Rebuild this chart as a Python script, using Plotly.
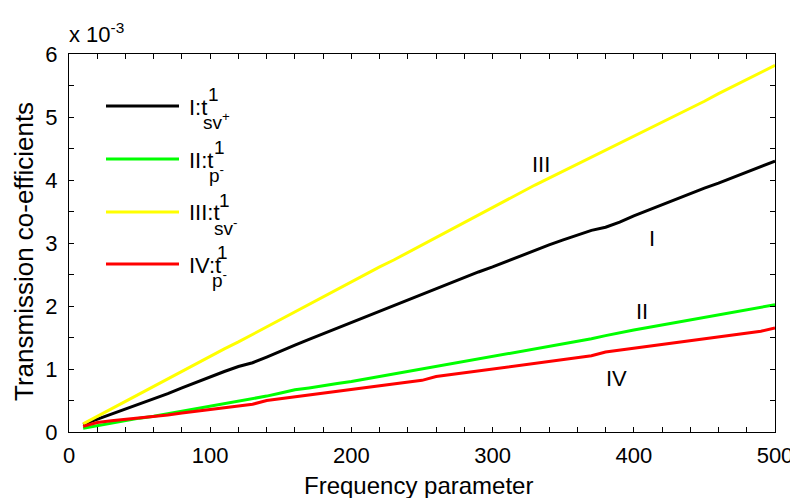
import plotly.graph_objects as go

freq = list(range(10, 501, 10))

t_sv_plus = [0.12, 0.2, 0.28, 0.37, 0.45, 0.53, 0.61, 0.7, 0.79, 0.88,
             0.96, 1.04, 1.1, 1.19, 1.29, 1.38, 1.47, 1.56, 1.65, 1.74,
             1.83, 1.92, 2.0, 2.09, 2.18, 2.27, 2.36, 2.45, 2.54, 2.62,
             2.71, 2.8, 2.88, 2.97, 3.05, 3.13, 3.2, 3.25, 3.33, 3.43,
             3.52, 3.6, 3.7, 3.79, 3.87, 3.95, 4.04, 4.13, 4.21, 4.3]

t_p_II = [0.06, 0.1, 0.15, 0.19, 0.22, 0.25, 0.29, 0.33, 0.37, 0.41,
          0.45, 0.48, 0.53, 0.57, 0.62, 0.67, 0.7, 0.74, 0.77, 0.8,
          0.84, 0.88, 0.92, 0.96, 0.99, 1.04, 1.08, 1.12, 1.16, 1.19,
          1.23, 1.27, 1.31, 1.35, 1.4, 1.44, 1.48, 1.53, 1.58, 1.62,
          1.66, 1.7, 1.73, 1.77, 1.82, 1.86, 1.9, 1.94, 1.98, 2.02]

t_sv_minus = [0.13, 0.25, 0.37, 0.49, 0.6, 0.72, 0.84, 0.96, 1.08, 1.2,
              1.32, 1.43, 1.55, 1.67, 1.79, 1.91, 2.03, 2.14, 2.26, 2.38,
              2.5, 2.62, 2.73, 2.85, 2.97, 3.09, 3.21, 3.33, 3.45, 3.57,
              3.68, 3.8, 3.92, 4.03, 4.14, 4.25, 4.36, 4.47, 4.58, 4.7,
              4.81, 4.92, 5.03, 5.14, 5.25, 5.37, 5.48, 5.59, 5.71, 5.82]

t_p_IV = [0.09, 0.15, 0.18, 0.2, 0.22, 0.24, 0.27, 0.3, 0.33, 0.35,
          0.38, 0.41, 0.44, 0.5, 0.53, 0.56, 0.59, 0.62, 0.65, 0.68,
          0.7, 0.73, 0.76, 0.79, 0.82, 0.88, 0.91, 0.94, 0.97, 1.0,
          1.03, 1.06, 1.09, 1.12, 1.15, 1.18, 1.21, 1.27, 1.3, 1.33,
          1.36, 1.39, 1.42, 1.45, 1.48, 1.51, 1.54, 1.57, 1.6, 1.65]

series_names = ["I", "II", "III", "IV"]
series_values = [t_sv_plus, t_p_II, t_sv_minus, t_p_IV]
series_colors = ["#000000", "#00ff00", "#ffff00", "#ff0000"]
legend_subs = ["sv<sup>+</sup>", "p<sup>-</sup>", "sv<sup>-</sup>", "p<sup>-</sup>"]

# in-plot labels (data coordinates)
label_text = ["III", "I", "II", "IV"]
label_x = [334, 413, 406, 388]
label_y = [4.25, 3.07, 1.92, 0.85]

FONT = "Arial, Liberation Sans, sans-serif"
FS = 22
OFF = 8  # page body margin
W, H = 798 - OFF, 498 - OFF
# target plot area in page pixels: x 69..775, y 54..432
L, R, T, B = 69 - OFF, W - (775 - OFF), 54 - OFF, H - (432 - OFF)
pw, ph = W - L - R, H - T - B


def px(x):
    return (x - OFF - L) / pw


def py(y):
    return (H - B - (y - OFF)) / ph


fig = go.Figure()
for name, vals, col in zip(series_names, series_values, series_colors):
    fig.add_trace(go.Scatter(x=freq, y=vals, mode="lines", name=name,
                             line=dict(color=col, width=3), showlegend=False))

annotations = []
for t, x, y in zip(label_text, label_x, label_y):
    annotations.append(dict(x=x, y=y, xref="x", yref="y", text=t, showarrow=False,
                            font=dict(family=FONT, size=FS, color="black")))

annotations.append(dict(x=px(67), y=py(33), xref="paper", yref="paper",
                        text="x 10<sup>-3</sup>", showarrow=False, xanchor="left",
                        yanchor="middle", font=dict(family=FONT, size=FS, color="black")))

# axis titles
annotations.append(dict(x=px(418), y=py(485), xref="paper", yref="paper",
                        text="Frequency parameter", showarrow=False,
                        xanchor="center", yanchor="middle",
                        font=dict(family=FONT, size=24, color="black")))
annotations.append(dict(x=px(24), y=py(252), xref="paper", yref="paper",
                        text="Transmission co-efficients", showarrow=False, textangle=-90,
                        xanchor="center", yanchor="middle",
                        font=dict(family=FONT, size=26, color="black")))

shapes = []
row_y = [106, 159, 212, 264]
main_w = [20, 26, 31, 29]
for i, (name, col, sub) in enumerate(zip(series_names, series_colors, legend_subs)):
    yy = row_y[i]
    shapes.append(dict(type="line", xref="paper", yref="paper",
                       x0=px(106), x1=px(179), y0=py(yy), y1=py(yy),
                       line=dict(color=col, width=3)))
    annotations.append(dict(x=px(187), y=py(yy + 1), xref="paper", yref="paper",
                            text=name + ":t", showarrow=False, xanchor="left",
                            yanchor="middle", font=dict(family=FONT, size=FS, color="black")))
    annotations.append(dict(x=px(186 + main_w[i]), y=py(yy - 12), xref="paper", yref="paper",
                            text="1", showarrow=False, xanchor="left",
                            yanchor="middle", font=dict(family=FONT, size=19, color="black")))
    annotations.append(dict(x=px(184 + main_w[i] - 3), y=py(yy + 15), xref="paper", yref="paper",
                            text=sub, showarrow=False, xanchor="left",
                            yanchor="middle", font=dict(family=FONT, size=19, color="black")))

axis_common = dict(showline=True, linecolor="black", linewidth=1, mirror="ticks",
                   ticks="inside", ticklen=5, tickcolor="black", showgrid=False,
                   zeroline=False, automargin=False,
                   tickfont=dict(family=FONT, size=FS, color="black"))

fig.update_layout(
    width=W, height=H,
    margin=dict(l=L, r=R, t=T, b=B),
    paper_bgcolor="white", plot_bgcolor="white",
    xaxis=dict(range=[0, 500], tickmode="linear", tick0=0, dtick=100,
               minor=dict(dtick=20, ticks="inside", ticklen=5, tickcolor="black"),
               ticklabelstandoff=4,
               **axis_common),
    yaxis=dict(range=[0, 6], tickmode="linear", tick0=0, dtick=1,
               minor=dict(dtick=0.5, ticks="inside", ticklen=5, tickcolor="black"),
               ticklabelstandoff=6,
               **axis_common),
    annotations=annotations,
    shapes=shapes,
)

fig.write_html("out.html")
